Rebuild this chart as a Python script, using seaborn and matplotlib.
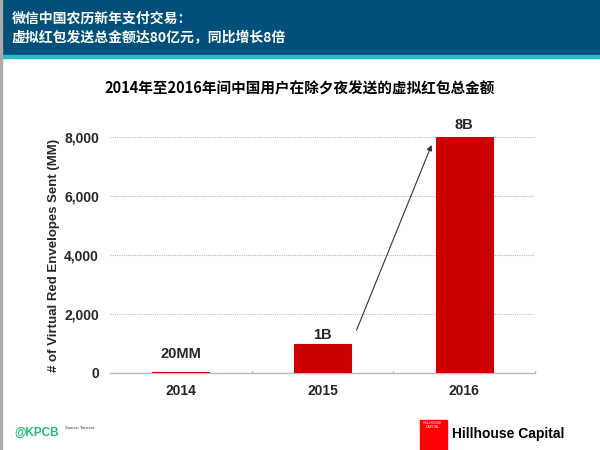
import matplotlib
matplotlib.use("Agg")
import matplotlib.pyplot as plt
from matplotlib.patches import Rectangle
import seaborn as sns
import pandas as pd

years = ["2014", "2015", "2016"]
values = [20, 1000, 8000]
labels = ["20MM", "1B", "8B"]
yticks = [0, 2000, 4000, 6000, 8000]
header1 = "微信中国农历新年支付交易："
header2 = "虚拟红包发送总金额达80亿元，同比增长8倍"
title = "2014年至2016年间中国用户在除夕夜发送的虚拟红包总金额"
ylabel = "# of Virtual Red Envelopes Sent (MM)"

sns.set_style("white")
plt.rcParams['font.family'] = ['Liberation Sans', 'Noto Sans CJK SC', 'DejaVu Sans']

df = pd.DataFrame({"year": years, "value": values})

fig = plt.figure(figsize=(6, 4.5), dpi=100)
W, H = 600, 450
def fx(x): return x / W
def fy(y): return 1 - y / H

# header
fig.patches.append(Rectangle((0, fy(55)), 1, 55 / H, transform=fig.transFigure,
                             color="#01507B", zorder=0))
fig.patches.append(Rectangle((0, fy(58)), 1, 3 / H, transform=fig.transFigure,
                             color="#2BB7CC", zorder=0))
fig.patches.append(Rectangle((0, 0), 1.5 / W, 1, transform=fig.transFigure,
                             color="#AAAAAA", zorder=0))
cjk = ['Noto Sans CJK SC', 'DejaVu Sans']
fig.text(fx(12), fy(19), header1, color="white", fontsize=10, fontweight="bold",
         family=cjk, va="center", ha="left")
fig.text(fx(12), fy(38), header2, color="white", fontsize=10, fontweight="bold",
         family=cjk, va="center", ha="left")
fig.text(fx(300), fy(88), title, color="black", fontsize=10.5, fontweight="bold",
         family=cjk, va="center", ha="center")

ax = fig.add_axes([fx(110), fy(373), fx(535) - fx(110), (373 - 137) / H])
sns.barplot(data=df, x="year", y="value", color="#CC0000", width=0.4,
            saturation=1, ax=ax, zorder=3, edgecolor="#CC0000", linewidth=0.8)
ax.set_ylim(0, 8000)
ax.set_xlim(-0.5, 2.5)
ax.set_yticks(yticks)
ax.set_yticklabels([f"{v:,}" for v in yticks], fontweight="bold", fontsize=10)
ax.set_xticks(range(len(years)))
ax.set_xticklabels(years, fontweight="bold", fontsize=10)
ax.tick_params(axis="both", length=0, pad=8)
ax.yaxis.grid(True, linestyle=(0, (1, 1)), color="#BBBBBB", linewidth=0.8)
ax.set_axisbelow(True)
for s in ["top", "right", "left"]:
    ax.spines[s].set_visible(False)
ax.spines["bottom"].set_color("#BBBBBB")
ax.spines["bottom"].set_linewidth(1)
ax.spines["bottom"].set_zorder(2)
# small separator ticks
for xb in [0.5, 1.5, 2.5]:
    ax.plot([xb, xb], [0, 80], color="#BBBBBB", lw=1, clip_on=False, zorder=2)
ax.set_xlabel("")
ax.set_ylabel(ylabel, fontweight="bold", fontsize=9.5, labelpad=3)

offsets = [370, 60, 180]
for i, (v, lab) in enumerate(zip(values, labels)):
    ax.text(i, v + offsets[i], lab, ha="center", va="bottom", fontsize=10.5,
            fontweight="bold", clip_on=False)

ax.annotate("", xy=(1.77, 7730), xytext=(1.24, 1450),
            arrowprops=dict(arrowstyle="-|>", color="#333333", lw=0.8,
                            mutation_scale=8, shrinkA=0, shrinkB=0),
            annotation_clip=False)

# footer
fig.text(fx(14), fy(433), "@KPCB", color="#1FBF74", fontsize=8.5, fontweight="bold",
         va="center", ha="left")
fig.text(fx(65), fy(428), "Source: Tencent.", color="#333333", fontsize=3,
         va="center", ha="left")
fig.patches.append(Rectangle((fx(420), 0), 27 / W, 30 / H, transform=fig.transFigure,
                             color="#FF0000", zorder=1))
fig.text(fx(433), fy(425), "HILLHOUSE\nCAPITAL", color="white", fontsize=2.5,
         va="center", ha="center", linespacing=1.0)
fig.text(fx(452), fy(434), "Hillhouse Capital", color="black", fontsize=10,
         fontweight="bold", va="center", ha="left")

fig.savefig("out.png", dpi=100)
